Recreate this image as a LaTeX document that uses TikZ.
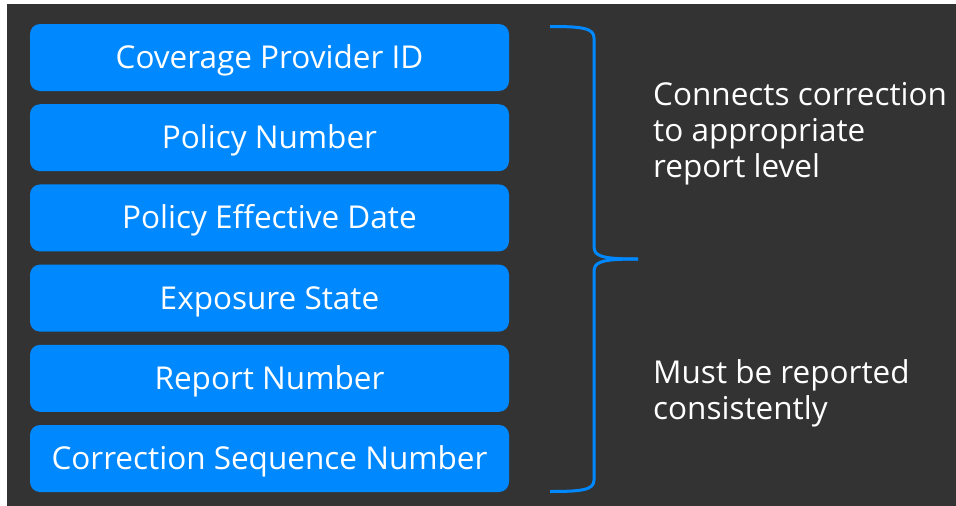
\documentclass[tikz,border=0pt]{standalone}
\usepackage{fontspec}
\setmainfont{Open Sans}
\usetikzlibrary{positioning}
\definecolor{slidebg}{HTML}{333333}
\definecolor{fieldblue}{HTML}{0088FF}
\begin{document}
\begin{tikzpicture}[
  x=1pt, y=-1pt,
  node distance=12.8pt,
  field/.style={rectangle, rounded corners=10pt, fill=fieldblue, text=white,
    minimum width=479pt, minimum height=67pt, text height=22pt, text depth=0pt,
    font=\fontsize{31.5}{36}\selectfont},
  note/.style={text=white, align=left, anchor=north west, inner sep=0pt,
    font=\fontsize{31.5}{36}\selectfont},
  bracket/.style={draw=fieldblue, line width=3pt}
]
  \useasboundingbox (0,0) rectangle (956,506);
  \fill[slidebg] (7,4) rectangle (956,506);

  \node (provider) [field] at (269.5,57.5) {Coverage Provider ID};
  \node (policy) [field, below=of provider] {Policy Number};
  \node (effdate) [field, below=of policy] {Policy Effective Date};
  \node (state) [field, below=of effdate] {Exposure State};
  \node (report) [field, below=of state] {Report Number};
  \node (sequence) [field, below=of report] {Correction Sequence Number};

  % bracket
  \draw[bracket] (550,26.5) .. controls (582,26.5) and (594,28) .. (594,38) -- (594,246)
    .. controls (594,256) and (600,259) .. (638,259);
  \draw[bracket] (638,259) .. controls (600,259) and (594,262) .. (594,272) -- (594,480)
    .. controls (594,490) and (582,491.5) .. (550,491.5);

  \node (levelnote) [note] at (653,82) {Connects correction\\to appropriate\\report level};
  \node (consistnote) [note] at (653,359) {Must be reported\\consistently};
\end{tikzpicture}
\end{document}
